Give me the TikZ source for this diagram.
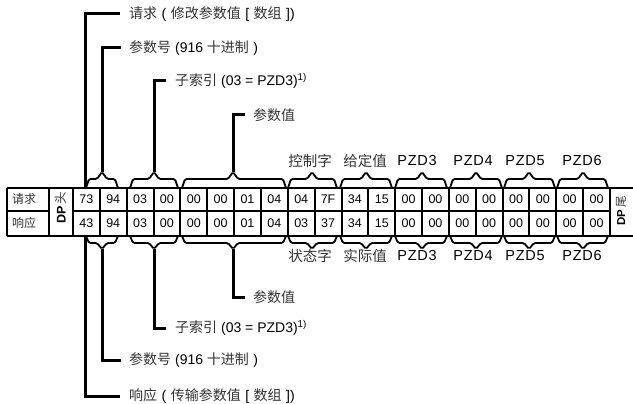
\documentclass[tikz,border=0pt]{standalone}
\usepackage{fontspec}
\setmainfont{Liberation Sans}
\newfontfamily\cjk{Noto Sans CJK SC}
\definecolor{cjkgray}{gray}{0.2}
\newcommand\zh[1]{{\cjk\color{cjkgray}#1}}
\newcommand\gapsp{\hspace{0.32em}}
\tikzset{
  tbl/.style={line width=2pt},
  brc/.style={line width=1.8pt, rounded corners=1.5pt},
  conn/.style={line width=3pt},
  cell/.style={font=\fontsize{12.5}{13}\selectfont, inner sep=0pt},
  lab/.style={font=\fontsize{14}{16}\selectfont, anchor=west, inner sep=0pt},
  glab/.style={font=\fontsize{14.5}{16}\selectfont\addfontfeature{LetterSpace=5}, inner sep=0pt},
}
\newcommand\topbrace[3]{\draw[brc] (#1,188) -- ({#1+3},179) -- ({#2-5},179) -- (#2,172) -- ({#2+5},179) -- ({#3-3},179) -- (#3,188);}
\newcommand\botbrace[3]{\draw[brc] (#1,236) -- ({#1+3},243) -- ({#2-5},243) -- (#2,249) -- ({#2+5},243) -- ({#3-3},243) -- (#3,236);}
\begin{document}
\begin{tikzpicture}[x=1pt,y=-1pt]
\useasboundingbox (0,0) rectangle (633,404);
% table frame
\draw[tbl] (7,188) -- (634,188);
\draw[tbl] (7,236) -- (634,236);
\draw[tbl] (7,188) -- (7,236);
\draw[tbl] (7,210.5) -- (49,210.5);
\draw[tbl] (73,210.5) -- (610,210.5);
\draw[tbl] (49,188) -- (49,236);
\foreach \k in {0,...,20}{
  \draw[tbl] ({73+26.85*\k},188) -- ({73+26.85*\k},236);
}
% row headers
\node[cell, anchor=west, font=\fontsize{12}{13}\selectfont] (hreq) at (12,199) {\zh{请求}};
\node[cell, anchor=west, font=\fontsize{12}{13}\selectfont] (hres) at (12,223) {\zh{响应}};
\node[cell, rotate=90, font=\fontsize{12.5}{13}\selectfont] (dphead) at (61,208) {\textbf{DP}\,\zh{头}};
\node[cell, rotate=90, font=\fontsize{11.5}{12}\selectfont] (dptail) at (621,211) {\textbf{DP}\,\zh{尾}};
% cell values
\foreach \v [count=\i from 0] in {73,94,03,00,00,00,01,04,04,7F,34,15,00,00,00,00,00,00,00,00}{
  \node[cell] (q\i) at ({73+26.85*\i+13.4},199.5) {\v};
}
\foreach \v [count=\i from 0] in {43,94,03,00,00,00,01,04,03,37,34,15,00,00,00,00,00,00,00,00}{
  \node[cell] (r\i) at ({73+26.85*\i+13.4},223.5) {\v};
}
% top braces
\topbrace{86}{102}{118}
\topbrace{130}{154}{178}
\topbrace{182}{233}{286}
\topbrace{288}{312}{337}
\topbrace{340}{366}{392}
\topbrace{395}{422}{447}
\topbrace{450}{476}{502}
\topbrace{504}{529}{555}
\topbrace{557}{583}{608}
% bottom braces
\botbrace{86}{102}{118}
\botbrace{130}{154}{178}
\botbrace{182}{233}{286}
\botbrace{288}{312}{337}
\botbrace{340}{366}{392}
\botbrace{395}{422}{447}
\botbrace{450}{476}{502}
\botbrace{504}{529}{555}
\botbrace{557}{583}{608}
% brace tips / ends
\coordinate (tReq) at (85,188);
\coordinate (tPN) at (102,172);
\coordinate (tSI) at (154,172);
\coordinate (tPV) at (233,172);
\coordinate (bRes) at (85,236);
\coordinate (bPN) at (102,249);
\coordinate (bSI) at (154,249);
\coordinate (bPV) at (233,249);
% top group labels
\node[glab] (gCW) at (310,161) {\zh{控制字}};
\node[glab] (gSP) at (365,161) {\zh{给定值}};
\node[glab] (gP3) at (417,161) {PZD3};
\node[glab] (gP4) at (473,161) {PZD4};
\node[glab] (gP5) at (525,161) {PZD5};
\node[glab] (gP6) at (582,161) {PZD6};
% bottom group labels
\node[glab] (hSW) at (310,256) {\zh{状态字}};
\node[glab] (hAV) at (365,256) {\zh{实际值}};
\node[glab] (hP3) at (417,256) {PZD3};
\node[glab] (hP4) at (473,256) {PZD4};
\node[glab] (hP5) at (525,256) {PZD5};
\node[glab] (hP6) at (582,256) {PZD6};
% top labels
\node[lab] (lReq) at (129,14) {\zh{请求}\gapsp(\gapsp\zh{修改参数值}\gapsp[\gapsp\zh{数组}\gapsp])};
\node[lab] (lPN) at (129,48) {\zh{参数号} (916 \zh{十进制}\gapsp)};
\node[lab] (lSI) at (175,81) {\zh{子索引} (03 = PZD3)\textsuperscript{1)}};
\node[lab] (lPV) at (253,115) {\zh{参数值}};
% bottom labels
\node[lab] (mPV) at (253,297) {\zh{参数值}};
\node[lab] (mSI) at (175,328) {\zh{子索引} (03 = PZD3)\textsuperscript{1)}};
\node[lab] (mPN) at (129,360) {\zh{参数号} (916 \zh{十进制}\gapsp)};
\node[lab] (mRes) at (129,396) {\zh{响应}\gapsp(\gapsp\zh{传输参数值}\gapsp[\gapsp\zh{数组}\gapsp])};
% connectors
\draw[conn] (tReq) |- ([xshift=-9pt]lReq.west);
\draw[conn] (tPN) |- ([xshift=-8pt]lPN.west);
\draw[conn] (tSI) |- ([xshift=-9pt]lSI.west);
\draw[conn] (tPV) |- ([xshift=-8pt]lPV.west);
\draw[conn] (bRes) |- ([xshift=-9pt]mRes.west);
\draw[conn] (bPN) |- ([xshift=-8pt]mPN.west);
\draw[conn] (bSI) |- ([xshift=-9pt]mSI.west);
\draw[conn] (bPV) |- ([xshift=-8pt]mPV.west);
\end{tikzpicture}
\end{document}
